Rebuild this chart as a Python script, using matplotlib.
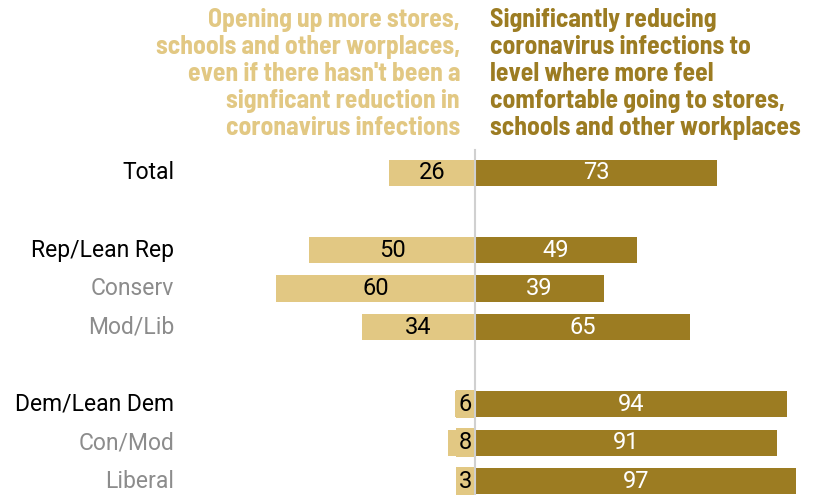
import matplotlib.pyplot as plt

# data
groups = ["Total", "Rep/Lean Rep", "Conserv", "Mod/Lib", "Dem/Lean Dem", "Con/Mod", "Liberal"]
rows = [0, 2, 3, 4, 6, 7, 8]
opening = [26, 50, 60, 34, 6, 8, 3]
reducing = [73, 49, 39, 65, 94, 91, 97]
label_colors = ["black", "black", "#8c8c8c", "#8c8c8c", "black", "#8c8c8c", "#8c8c8c"]

light = "#E2C883"
dark = "#9C7C22"
plt.rcParams["font.family"] = ["Roboto", "DejaVu Sans"]

fig = plt.figure(figsize=(8.16, 4.95), dpi=100)
ax = fig.add_axes([0, 0, 1, 1])
ax.set_xlim(-143.3, 102.9)
ax.set_ylim(8.36, -4.49)
ax.axis("off")

ax.barh(rows, [-v for v in opening], height=0.68, color=light, zorder=2)
ax.barh(rows, reducing, height=0.68, color=dark, zorder=2)
ax.plot([0, 0], [-0.6, 8.36], color="#d0d0d0", lw=1.5, zorder=3)

for r, g, c, a, b in zip(rows, groups, label_colors, opening, reducing):
    ax.text(-90.8, r, g, ha="right", va="center", fontsize=16.5, color=c)
    if a >= 10:
        ax.text(-a / 2, r, str(a), ha="center", va="center", fontsize=17, color="black", zorder=4)
    else:
        ax.text(-1.0, r, str(a), ha="right", va="center", fontsize=17, color="black", zorder=4,
                bbox=dict(boxstyle="square,pad=0.12", fc=light, ec="none"))
    ax.text(b / 2, r, str(b), ha="center", va="center", fontsize=17, color="white", zorder=4)

hfont = ["Barlow Semi Condensed", "Barlow Condensed", "DejaVu Sans"]
ax.text(-4.5, -4.27, "Opening up more stores,\nschools and other worplaces,\neven if there hasn't been a\nsignficant reduction in\ncoronavirus infections",
        ha="right", va="top", fontsize=18.5, fontweight="bold", color=light, family=hfont, linespacing=1.15)
ax.text(4.5, -4.27, "Significantly reducing\ncoronavirus infections to\nlevel where more feel\ncomfortable going to stores,\nschools and other workplaces",
        ha="left", va="top", fontsize=18.5, fontweight="bold", color=dark, family=hfont, linespacing=1.15)

fig.savefig("out.png", dpi=100)
